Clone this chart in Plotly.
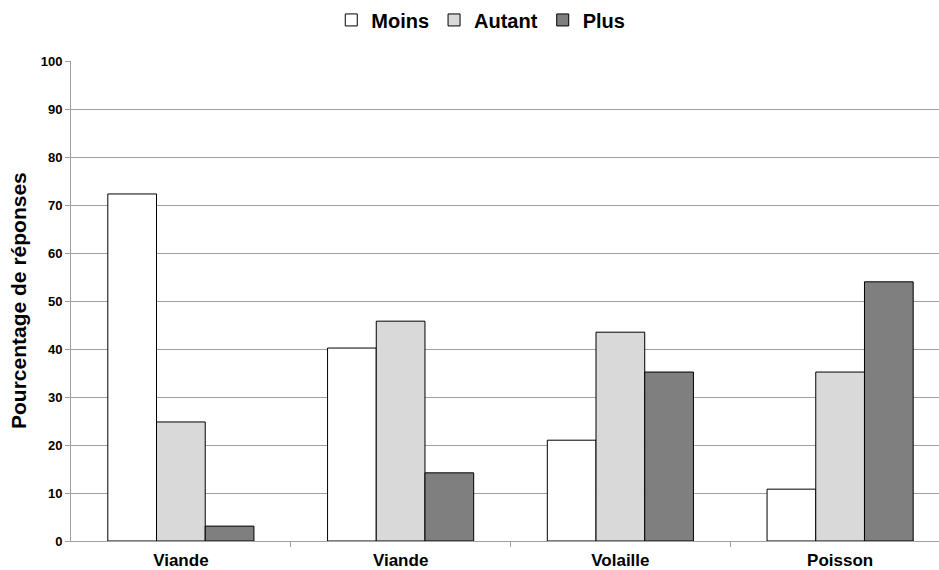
import plotly.graph_objects as go

categories = ["Viande", "Viande", "Volaille", "Poisson"]
series_names = ["Moins", "Autant", "Plus"]
moins = [72.3, 40.2, 21.0, 10.8]
autant = [24.8, 45.8, 43.5, 35.2]
plus = [3.1, 14.2, 35.2, 54.0]
y_ticks = [0, 10, 20, 30, 40, 50, 60, 70, 80, 90, 100]

colors = ["#ffffff", "#d9d9d9", "#7f7f7f"]
values = [moins, autant, plus]
xpos = list(range(len(categories)))

fig = go.Figure()
for name, vals, col in zip(series_names, values, colors):
    fig.add_trace(go.Bar(
        x=xpos, y=vals, name=name,
        marker=dict(color=col, line=dict(color="#000000", width=1)),
    ))

font_family = "Liberation Sans, Arial, sans-serif"
L, R, T, B = 71, 0, 61, 29
W, H = 939, 570
fig.update_layout(
    width=W, height=H,
    margin=dict(l=L, r=R, t=T, b=B, autoexpand=False),
    paper_bgcolor="white", plot_bgcolor="white",
    barmode="group", bargap=0.335, bargroupgap=0,
    font=dict(family=font_family, color="#000000"),
    legend=dict(orientation="h", x=0.512, xanchor="center", xref="container",
                y=0.965, yanchor="middle", yref="container",
                font=dict(size=20, family=font_family, weight="bold"),
                itemwidth=30, traceorder="normal"),
    xaxis=dict(
        range=[-0.5, 3.45],
        tickvals=xpos, ticktext=categories,
        tickfont=dict(size=17, family=font_family, weight="bold"),
        ticks="", showgrid=False, ticklabelstandoff=4,
        showline=True, linecolor="#a0a0a0", linewidth=1,
        minor=dict(tickvals=[0.5, 1.5, 2.5], ticks="outside", ticklen=5,
                   tickcolor="#a0a0a0", showgrid=False),
        zeroline=False, automargin=False,
    ),
    yaxis=dict(
        range=[0, 100], tickvals=y_ticks,
        tickfont=dict(size=13, family=font_family, weight="bold"),
        ticks="outside", ticklen=5, tickcolor="#a0a0a0",
        showgrid=True, gridcolor="#a0a0a0", gridwidth=1,
        showline=True, linecolor="#a0a0a0", linewidth=1,
        zeroline=False, automargin=False,
    ),
    annotations=[dict(
        text="Pourcentage de réponses", textangle=-90,
        xref="paper", yref="paper",
        x=-(L - 18) / (W - L - R), y=0.5, xanchor="center", yanchor="middle",
        showarrow=False,
        font=dict(size=21, family=font_family, weight="bold"),
    )],
)

fig.write_html(
    "out.html",
    config={"responsive": False, "displayModeBar": False},
    post_script="document.body.style.margin='0';document.body.style.overflow='hidden';",
)
